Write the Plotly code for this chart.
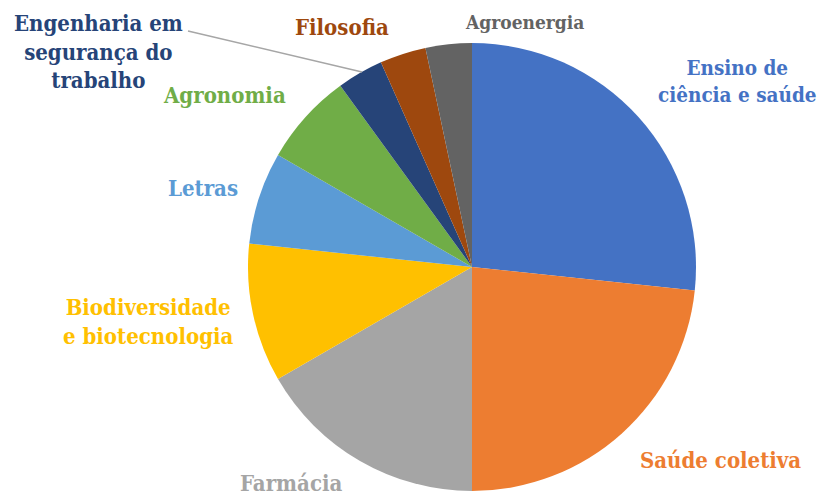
import plotly.graph_objects as go

# page has an 8px body margin: draw the figure in the remaining area
OFF = 8
W, H = 827 - OFF, 497 - OFF

categories = ["Ensino de ciência e saúde", "Saúde coletiva", "Farmácia",
              "Biodiversidade e biotecnologia", "Letras", "Agronomia",
              "Engenharia em segurança do trabalho", "Filosofia", "Agroenergia"]
values = [8, 7, 5, 3, 2, 2, 1, 1, 1]
slice_colors = ["#4472C4", "#ED7D31", "#A5A5A5", "#FFC000", "#5B9BD5",
                "#70AD47", "#264478", "#9E480E", "#636363"]
label_texts = ["Ensino de<br>ciência e saúde", "Saúde coletiva", "Farmácia",
               "Biodiversidade<br>e biotecnologia", "Letras", "Agronomia",
               "Engenharia em<br>segurança do<br>trabalho", "Filosofia", "Agroenergia"]
label_px = [(737, 82), (720, 460), (291, 483), (148, 321), (203, 188),
            (224, 95), (98, 51), (342, 27), (524, 22)]
label_sizes = [20.5, 22, 22, 22, 22, 22, 22, 22, 19]
FONT = "DejaVu Serif Condensed"


def px2paper(x, y):
    return (x - OFF) / W, 1 - (y - OFF) / H


dx0, dy1 = px2paper(248, 43)
dx1, dy0 = px2paper(696, 491)

fig = go.Figure(go.Pie(
    labels=categories, values=values, sort=False, direction="clockwise",
    rotation=0, marker=dict(colors=slice_colors, line=dict(width=0)),
    textinfo="none", hoverinfo="label+value",
    domain=dict(x=[dx0, dx1], y=[dy0, dy1]),
    showlegend=False,
))

annotations = []
for txt, (px, py), col, sz in zip(label_texts, label_px, slice_colors, label_sizes):
    ax, ay = px2paper(px, py)
    annotations.append(dict(
        x=ax, y=ay, xref="paper", yref="paper", text=txt,
        showarrow=False, xanchor="center", yanchor="middle", align="center",
        font=dict(family=FONT, size=sz, color=col, weight="bold"),
    ))

lx0, ly0 = px2paper(188, 31)
lx1, ly1 = px2paper(362, 72)

fig.update_layout(
    width=W, height=H, margin=dict(l=0, r=0, t=0, b=0),
    paper_bgcolor="white", plot_bgcolor="white",
    annotations=annotations,
    shapes=[dict(type="line", xref="paper", yref="paper",
                 x0=lx0, y0=ly0, x1=lx1, y1=ly1,
                 line=dict(color="#A6A6A6", width=1.5))],
)

fig.write_html("out.html")
